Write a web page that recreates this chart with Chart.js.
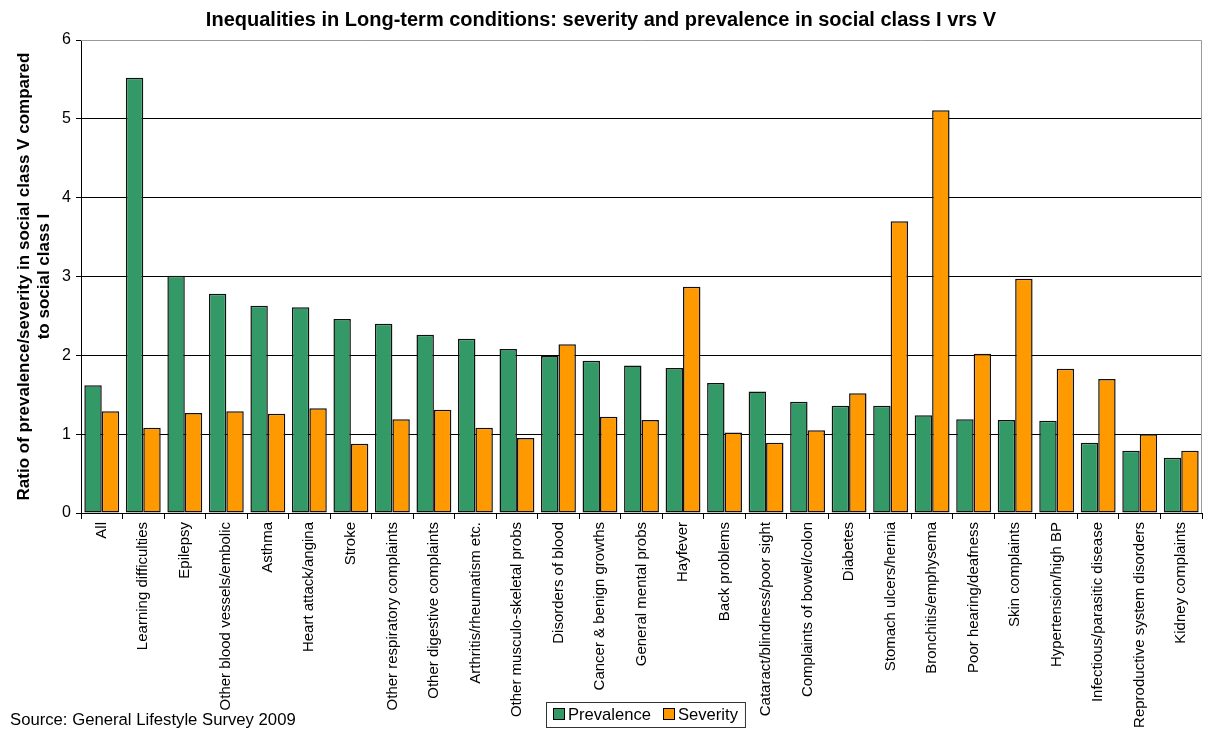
<!DOCTYPE html>
<html>
<head>
<meta charset="utf-8">
<script src="https://cdn.jsdelivr.net/npm/chart.js@4.4.1/dist/chart.umd.min.js"></script>
<style>
  body { margin: 0; background: #fff; }
</style>
</head>
<body>
<canvas id="chart" width="1210" height="730"></canvas>
<script>
// Données
const categories = [
    'All', 'Learning difficulties', 'Epilepsy', 'Other blood vessels/embolic', 'Asthma',
    'Heart attack/angina', 'Stroke', 'Other respiratory complaints', 'Other digestive complaints',
    'Arthritis/rheumatism etc.', 'Other musculo-skeletal probs', 'Disorders of blood',
    'Cancer & benign growths', 'General mental probs', 'Hayfever', 'Back problems',
    'Cataract/blindness/poor sight', 'Complaints of bowel/colon', 'Diabetes',
    'Stomach ulcers/hernia', 'Bronchitis/emphysema', 'Poor hearing/deafness', 'Skin complaints',
    'Hypertension/high BP', 'Infectious/parasitic disease', 'Reproductive system disorders',
    'Kidney complaints'
];
const prevalence = [1.62, 5.52, 3.01, 2.78, 2.63, 2.61, 2.46, 2.40, 2.26, 2.21, 2.08, 1.99, 1.93,
    1.87, 1.84, 1.65, 1.54, 1.41, 1.36, 1.36, 1.24, 1.19, 1.18, 1.17, 0.89, 0.79, 0.70];
const severity = [1.29, 1.08, 1.27, 1.29, 1.26, 1.33, 0.88, 1.19, 1.31, 1.08, 0.95, 2.14, 1.22,
    1.18, 2.87, 1.02, 0.89, 1.05, 1.52, 3.70, 5.11, 2.02, 2.97, 1.83, 1.70, 1.00, 0.79];
const seriesNames = ['Prevalence', 'Severity'];
const seriesColors = ['#339966', '#FF9900'];
const yTicks = [0, 1, 2, 3, 4, 5, 6];

const FONT = "'Liberation Sans', Arial, sans-serif";

// Cadre gris, légende et source
const extras = {
    id: 'extras',
    afterDraw(chart) {
        const { ctx, chartArea } = chart;
        ctx.save();
        // bord haut et droit en gris
        ctx.strokeStyle = '#999';
        ctx.lineWidth = 1;
        ctx.beginPath();
        ctx.moveTo(chartArea.left, chartArea.top + 0.5);
        ctx.lineTo(chartArea.right - 0.5, chartArea.top + 0.5);
        ctx.lineTo(chartArea.right - 0.5, chartArea.bottom);
        ctx.stroke();

        // source
        ctx.font = '16.7px ' + FONT;
        ctx.fillStyle = '#000';
        ctx.textBaseline = 'middle';
        ctx.textAlign = 'left';
        ctx.fillText('Source: General Lifestyle Survey 2009', 10, 720);

        // légende
        ctx.font = '16.6px ' + FONT;
        const w0 = ctx.measureText(seriesNames[0]).width;
        const w1 = ctx.measureText(seriesNames[1]).width;
        const boxW = 7 + 12 + 3 + w0 + 12 + 12 + 3 + w1 + 7;
        const bx = Math.round(645 - boxW / 2) + 0.5;
        const by = 702.5;
        ctx.fillStyle = '#fff';
        ctx.fillRect(bx, by, boxW, 25);
        ctx.strokeStyle = '#333';
        ctx.strokeRect(bx, by, boxW, 25);
        let x = bx + 7;
        [w0, w1].forEach((w, i) => {
            ctx.fillStyle = seriesColors[i];
            ctx.fillRect(x, by + 6, 11, 11);
            ctx.strokeStyle = '#000';
            ctx.strokeRect(x, by + 6, 11, 11);
            ctx.fillStyle = '#000';
            ctx.fillText(seriesNames[i], x + 14.5, by + 12.5);
            x += 15 + w + 12;
        });
        ctx.restore();
    }
};

new Chart(document.getElementById('chart').getContext('2d'), {
    type: 'bar',
    data: {
        labels: categories,
        datasets: [prevalence, severity].map((d, i) => ({
            label: seriesNames[i],
            data: d,
            backgroundColor: seriesColors[i],
            borderColor: '#111',
            borderWidth: 1.5,
            borderSkipped: false,
            barPercentage: 1.0,
            categoryPercentage: 0.84
        }))
    },
    options: {
        responsive: false,
        animation: false,
        layout: { padding: { left: 0, right: 8, top: 0, bottom: 0 } },
        plugins: {
            legend: { display: false },
            tooltip: { enabled: false },
            title: {
                display: true,
                text: 'Inequalities in Long-term conditions: severity and prevalence in social class I vrs V',
                color: '#000',
                font: { family: FONT, size: 20, weight: 'bold', lineHeight: 1.2 },
                padding: { top: 8, bottom: 8 }
            }
        },
        scales: {
            x: {
                grid: {
                    offset: true,
                    drawOnChartArea: false,
                    color: '#000',
                    tickLength: 6
                },
                border: { color: '#000', width: 1 },
                ticks: {
                    color: '#000',
                    font: { family: FONT, size: 15 },
                    minRotation: 90,
                    maxRotation: 90,
                    autoSkip: false,
                    padding: 3
                },
                afterFit(scale) { scale.height = 217; }
            },
            y: {
                min: 0,
                max: 6,
                afterBuildTicks(scale) { scale.ticks = yTicks.map(v => ({ value: v })); },
                grid: {
                    color: ctx => (ctx.tick && ctx.tick.value === 6) ? 'rgba(0,0,0,0)' : '#000',
                    tickColor: '#000',
                    tickLength: 5
                },
                border: { color: '#000', width: 1 },
                ticks: {
                    color: '#000',
                    font: { family: FONT, size: 16 },
                    padding: 5
                },
                title: {
                    display: true,
                    text: ['Ratio of prevalence/severity in social class V compared', 'to social class I'],
                    color: '#000',
                    font: { family: FONT, size: 17, weight: 'bold', lineHeight: 1.15 },
                    padding: { top: 15, bottom: 0 }
                },
                afterFit(scale) { scale.width = 81; }
            }
        }
    },
    plugins: [extras]
});
</script>
</body>
</html>
